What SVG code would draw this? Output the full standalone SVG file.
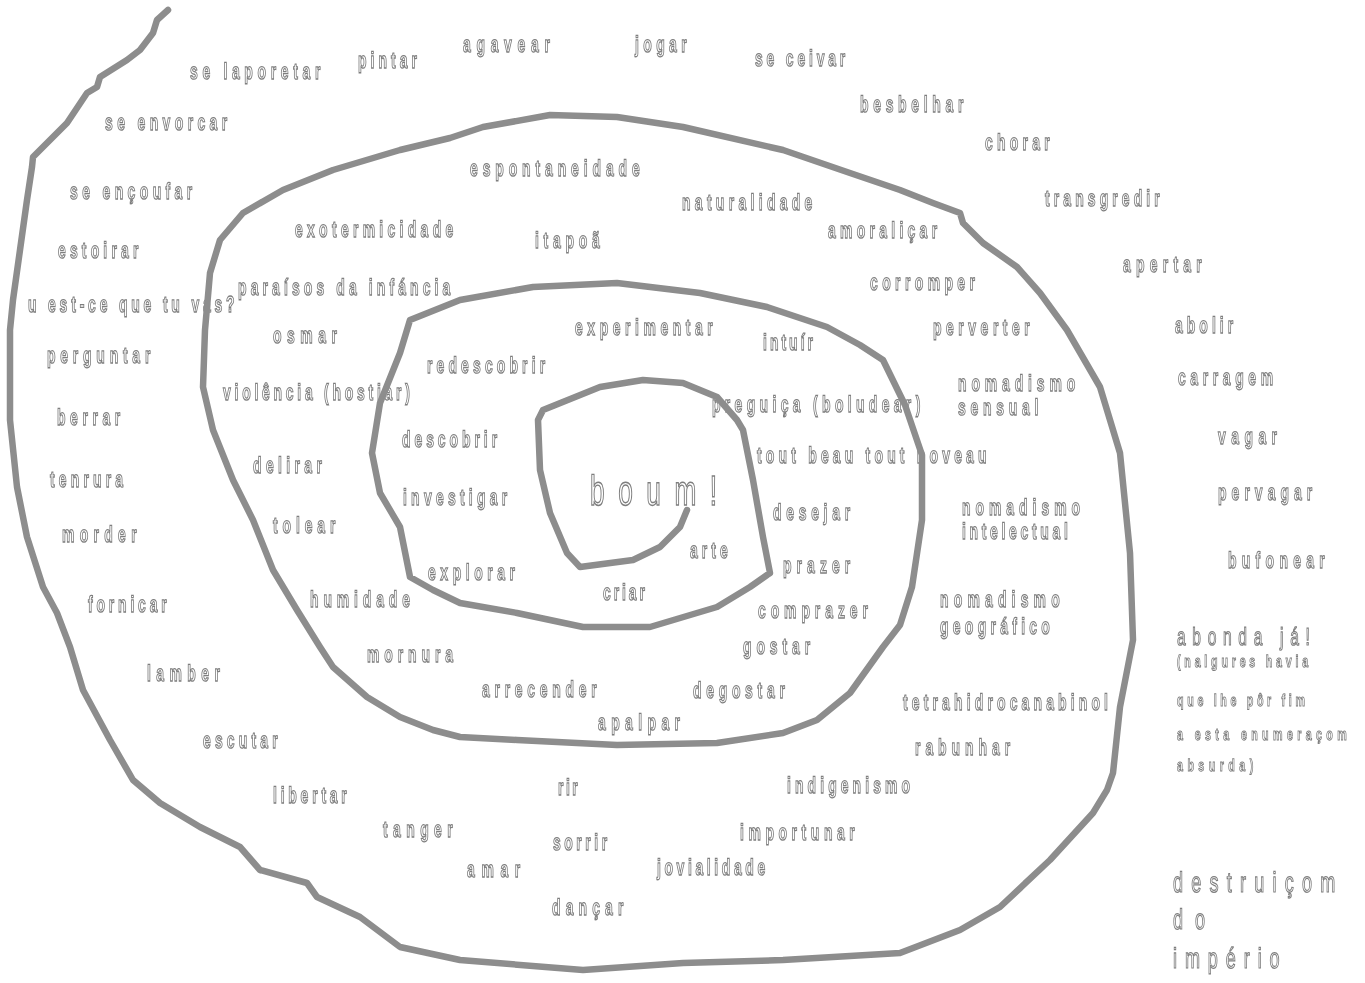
<svg xmlns="http://www.w3.org/2000/svg" width="1365" height="983" viewBox="0 0 1365 983">
<style>
text{font-family:"Liberation Sans",Arial,sans-serif;fill:#fff;stroke:#7d7d7d;stroke-width:0.95px;text-rendering:geometricPrecision}
#words{opacity:0.99}
.t{font-size:17px;font-weight:bold}
.s{font-size:13px;font-weight:bold;stroke-width:0.8px}
.m{font-size:19px;font-weight:normal}
.b{font-size:32px;font-weight:normal;stroke-width:1.1px}
.x{font-size:22px;font-weight:normal;stroke-width:0.95px}
.spiral{fill:none;stroke:#8d8d8d;stroke-width:6.5;stroke-linecap:round;stroke-linejoin:round}
</style>
<rect width="1365" height="983" fill="#fff"/>
<g id="words">
<text class="t" transform="translate(190 79) scale(0.82 1.35)" textLength="159" lengthAdjust="spacing">se laporetar</text>
<text class="t" transform="translate(358 68) scale(0.82 1.35)" textLength="72" lengthAdjust="spacing">pintar</text>
<text class="t" transform="translate(463 52) scale(0.82 1.35)" textLength="106" lengthAdjust="spacing">agavear</text>
<text class="t" transform="translate(635 52) scale(0.82 1.35)" textLength="63" lengthAdjust="spacing">jogar</text>
<text class="t" transform="translate(755 66) scale(0.82 1.35)" textLength="110" lengthAdjust="spacing">se ceivar</text>
<text class="t" transform="translate(860 112) scale(0.82 1.35)" textLength="126" lengthAdjust="spacing">besbelhar</text>
<text class="t" transform="translate(985 150) scale(0.82 1.35)" textLength="79" lengthAdjust="spacing">chorar</text>
<text class="t" transform="translate(1045 206) scale(0.82 1.35)" textLength="140" lengthAdjust="spacing">transgredir</text>
<text class="t" transform="translate(1123 272) scale(0.82 1.35)" textLength="96" lengthAdjust="spacing">apertar</text>
<text class="t" transform="translate(1175 333) scale(0.82 1.35)" textLength="71" lengthAdjust="spacing">abolir</text>
<text class="t" transform="translate(1178 385) scale(0.82 1.35)" textLength="116" lengthAdjust="spacing">carragem</text>
<text class="t" transform="translate(1218 444) scale(0.82 1.35)" textLength="72" lengthAdjust="spacing">vagar</text>
<text class="t" transform="translate(1218 500) scale(0.82 1.35)" textLength="115" lengthAdjust="spacing">pervagar</text>
<text class="t" transform="translate(1228 568) scale(0.82 1.35)" textLength="118" lengthAdjust="spacing">bufonear</text>
<text class="t" transform="translate(105 130) scale(0.82 1.35)" textLength="149" lengthAdjust="spacing">se envorcar</text>
<text class="t" transform="translate(70 199) scale(0.82 1.35)" textLength="149" lengthAdjust="spacing">se ençoufar</text>
<text class="t" transform="translate(58 258) scale(0.82 1.35)" textLength="98" lengthAdjust="spacing">estoirar</text>
<text class="t" transform="translate(28 312) scale(0.82 1.35)" textLength="252" lengthAdjust="spacing">u est-ce que tu vas?</text>
<text class="t" transform="translate(47 363) scale(0.82 1.35)" textLength="126" lengthAdjust="spacing">perguntar</text>
<text class="t" transform="translate(57 425) scale(0.82 1.35)" textLength="77" lengthAdjust="spacing">berrar</text>
<text class="t" transform="translate(50 487) scale(0.82 1.35)" textLength="89" lengthAdjust="spacing">tenrura</text>
<text class="t" transform="translate(62 542) scale(0.82 1.35)" textLength="91" lengthAdjust="spacing">morder</text>
<text class="t" transform="translate(88 612) scale(0.82 1.35)" textLength="96" lengthAdjust="spacing">fornicar</text>
<text class="t" transform="translate(147 681) scale(0.82 1.35)" textLength="89" lengthAdjust="spacing">lamber</text>
<text class="t" transform="translate(203 748) scale(0.82 1.35)" textLength="91" lengthAdjust="spacing">escutar</text>
<text class="t" transform="translate(273 803) scale(0.82 1.35)" textLength="90" lengthAdjust="spacing">libertar</text>
<text class="t" transform="translate(383 837) scale(0.82 1.35)" textLength="85" lengthAdjust="spacing">tanger</text>
<text class="t" transform="translate(467 877) scale(0.82 1.35)" textLength="65" lengthAdjust="spacing">amar</text>
<text class="t" transform="translate(553 850) scale(0.82 1.35)" textLength="66" lengthAdjust="spacing">sorrir</text>
<text class="t" transform="translate(558 795) scale(0.82 1.35)" textLength="24" lengthAdjust="spacing">rir</text>
<text class="t" transform="translate(552 915) scale(0.82 1.35)" textLength="87" lengthAdjust="spacing">dançar</text>
<text class="t" transform="translate(657 875) scale(0.82 1.35)" textLength="132" lengthAdjust="spacing">jovialidade</text>
<text class="t" transform="translate(740 840) scale(0.82 1.35)" textLength="140" lengthAdjust="spacing">importunar</text>
<text class="t" transform="translate(787 793) scale(0.82 1.35)" textLength="150" lengthAdjust="spacing">indigenismo</text>
<text class="t" transform="translate(915 755) scale(0.82 1.35)" textLength="116" lengthAdjust="spacing">rabunhar</text>
<text class="t" transform="translate(903 710) scale(0.82 1.35)" textLength="250" lengthAdjust="spacing">tetrahidrocanabinol</text>
<text class="t" transform="translate(940 607) scale(0.82 1.35)" textLength="146" lengthAdjust="spacing">nomadismo</text>
<text class="t" transform="translate(940 634) scale(0.82 1.35)" textLength="134" lengthAdjust="spacing">geográfico</text>
<text class="t" transform="translate(962 515) scale(0.82 1.35)" textLength="144" lengthAdjust="spacing">nomadismo</text>
<text class="t" transform="translate(962 539) scale(0.82 1.35)" textLength="129" lengthAdjust="spacing">intelectual</text>
<text class="t" transform="translate(958 391) scale(0.82 1.35)" textLength="143" lengthAdjust="spacing">nomadismo</text>
<text class="t" transform="translate(958 415) scale(0.82 1.35)" textLength="98" lengthAdjust="spacing">sensual</text>
<text class="t" transform="translate(757 463) scale(0.82 1.35)" textLength="280" lengthAdjust="spacing">tout beau tout noveau</text>
<text class="t" transform="translate(712 412) scale(0.82 1.35)" textLength="254" lengthAdjust="spacing">preguiça (boludear)</text>
<text class="t" transform="translate(933 335) scale(0.82 1.35)" textLength="118" lengthAdjust="spacing">perverter</text>
<text class="t" transform="translate(870 290) scale(0.82 1.35)" textLength="128" lengthAdjust="spacing">corromper</text>
<text class="t" transform="translate(828 238) scale(0.82 1.35)" textLength="133" lengthAdjust="spacing">amoraliçar</text>
<text class="t" transform="translate(682 210) scale(0.82 1.35)" textLength="159" lengthAdjust="spacing">naturalidade</text>
<text class="t" transform="translate(470 176) scale(0.82 1.35)" textLength="207" lengthAdjust="spacing">espontaneidade</text>
<text class="t" transform="translate(535 248) scale(0.82 1.35)" textLength="79" lengthAdjust="spacing">itapoã</text>
<text class="t" transform="translate(295 237) scale(0.82 1.35)" textLength="193" lengthAdjust="spacing">exotermicidade</text>
<text class="t" transform="translate(238 295) scale(0.82 1.35)" textLength="259" lengthAdjust="spacing">paraísos da infáncia</text>
<text class="t" transform="translate(273 343) scale(0.82 1.35)" textLength="78" lengthAdjust="spacing">osmar</text>
<text class="t" transform="translate(223 400) scale(0.82 1.35)" textLength="228" lengthAdjust="spacing">violência (hostiar)</text>
<text class="t" transform="translate(253 473) scale(0.82 1.35)" textLength="84" lengthAdjust="spacing">delirar</text>
<text class="t" transform="translate(273 533) scale(0.82 1.35)" textLength="76" lengthAdjust="spacing">tolear</text>
<text class="t" transform="translate(310 607) scale(0.82 1.35)" textLength="122" lengthAdjust="spacing">humidade</text>
<text class="t" transform="translate(367 662) scale(0.82 1.35)" textLength="105" lengthAdjust="spacing">mornura</text>
<text class="t" transform="translate(482 697) scale(0.82 1.35)" textLength="140" lengthAdjust="spacing">arrecender</text>
<text class="t" transform="translate(598 730) scale(0.82 1.35)" textLength="100" lengthAdjust="spacing">apalpar</text>
<text class="t" transform="translate(693 698) scale(0.82 1.35)" textLength="112" lengthAdjust="spacing">degostar</text>
<text class="t" transform="translate(743 654) scale(0.82 1.35)" textLength="82" lengthAdjust="spacing">gostar</text>
<text class="t" transform="translate(758 618) scale(0.82 1.35)" textLength="134" lengthAdjust="spacing">comprazer</text>
<text class="t" transform="translate(783 573) scale(0.82 1.35)" textLength="82" lengthAdjust="spacing">prazer</text>
<text class="t" transform="translate(773 520) scale(0.82 1.35)" textLength="94" lengthAdjust="spacing">desejar</text>
<text class="t" transform="translate(690 558) scale(0.82 1.35)" textLength="46" lengthAdjust="spacing">arte</text>
<text class="t" transform="translate(603 600) scale(0.82 1.35)" textLength="51" lengthAdjust="spacing">criar</text>
<text class="t" transform="translate(763 350) scale(0.82 1.35)" textLength="61" lengthAdjust="spacing">intuír</text>
<text class="t" transform="translate(575 335) scale(0.82 1.35)" textLength="168" lengthAdjust="spacing">experimentar</text>
<text class="t" transform="translate(427 373) scale(0.82 1.35)" textLength="144" lengthAdjust="spacing">redescobrir</text>
<text class="t" transform="translate(402 447) scale(0.82 1.35)" textLength="116" lengthAdjust="spacing">descobrir</text>
<text class="t" transform="translate(403 505) scale(0.82 1.35)" textLength="127" lengthAdjust="spacing">investigar</text>
<text class="t" transform="translate(428 580) scale(0.82 1.35)" textLength="106" lengthAdjust="spacing">explorar</text>
<text class="b" transform="translate(590 505) scale(0.82 1.32)" textLength="155" lengthAdjust="spacing">boum!</text>
<text class="m" transform="translate(1177 645) scale(0.82 1.3)" textLength="162" lengthAdjust="spacing">abonda já!</text>
<text class="s" transform="translate(1177 667) scale(0.82 1.3)" textLength="160" lengthAdjust="spacing">(nalgures havia</text>
<text class="s" transform="translate(1177 706) scale(0.82 1.3)" textLength="156" lengthAdjust="spacing">que lhe pôr fim</text>
<text class="s" transform="translate(1177 740) scale(0.82 1.3)" textLength="207" lengthAdjust="spacing">a esta enumeraçom</text>
<text class="s" transform="translate(1177 771) scale(0.82 1.3)" textLength="93" lengthAdjust="spacing">absurda)</text>
<text class="x" transform="translate(1173 892) scale(0.82 1.3)" textLength="198" lengthAdjust="spacing">destruiçom</text>
<text class="x" transform="translate(1173 929) scale(0.82 1.3)" textLength="39" lengthAdjust="spacing">do</text>
<text class="x" transform="translate(1173 968) scale(0.82 1.3)" textLength="130" lengthAdjust="spacing">império</text>
</g>
<g id="spiral">
<path class="spiral" d="M168,10 L157,20 L153,33 L140,50 L127,60 L100,77 L97,87 L87,93 L67,123 L50,140 L33,157 L32,167 L27,200 L20,250 L13,300 L10,330 L10,420 L17,487 L27,537 L43,587 L57,613 L70,647 L83,690 L110,740 L133,780 L160,803 L200,827 L240,847 L260,870 L307,883 L317,897 L360,917 L400,947 L460,960 L583,970 L683,963 L783,960 L900,953 L960,930 L1000,907 L1050,860 L1093,813 L1107,790 L1113,773 L1120,707 L1133,640 L1130,553 L1120,453 L1100,387 L1067,330 L1040,293 L1017,267 L983,243 L963,223 L960,213 L933,203 L900,190 L850,173 L783,150 L683,127 L617,117 L550,115 L483,127 L450,138 L400,150 L333,170 L283,190 L243,213 L220,240 L210,273 L205,330 L203,387 L213,430 L233,480 L253,520 L273,570 L297,610 L320,647 L333,667 L367,697 L400,717 L433,730 L460,737 L517,740 L617,745 L717,743 L783,733 L817,720 L850,693 L883,647 L900,625 L912,587 L922,520 L922,455 L905,405 L883,360 L860,345 L827,327 L767,307 L700,293 L617,283 L533,287 L460,300 L410,320 L400,353 L380,403 L372,453 L380,493 L400,527 L410,577 L433,590 L460,603 L517,613 L583,627 L650,627 L717,607 L750,587 L770,573 L763,537 L753,480 L743,430 L737,420 L717,397 L683,383 L643,380 L600,387 L543,410 L538,420 L540,470 L550,513 L567,553 L580,567 L633,560 L660,547 L680,527 L687,510"/>
</g>
</svg>
